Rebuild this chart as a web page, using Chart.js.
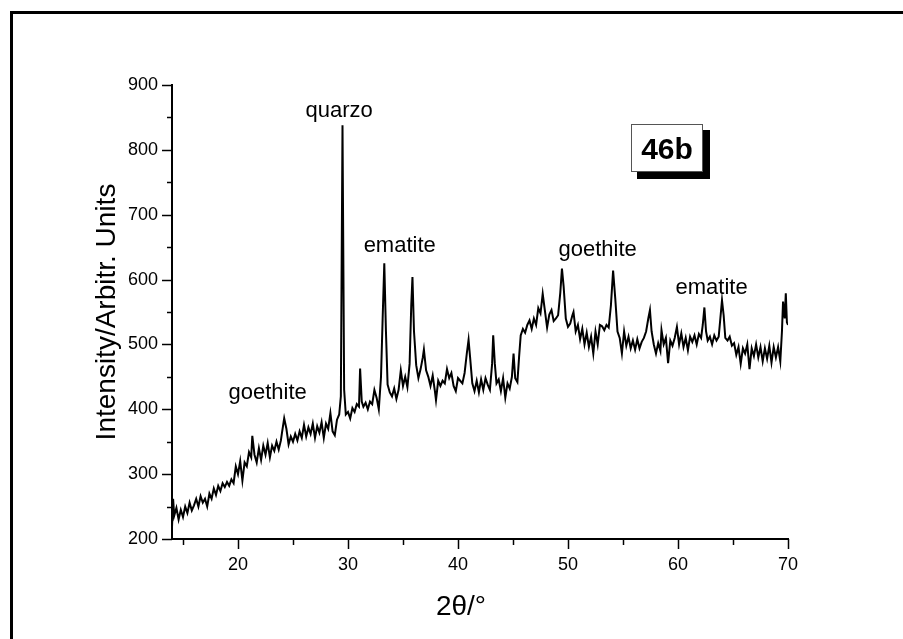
<!DOCTYPE html>
<html>
<head>
<meta charset="utf-8">
<title>46b XRD</title>
<script src="https://cdn.jsdelivr.net/npm/chart.js@4.4.1/dist/chart.umd.min.js"></script>
<style>
  html, body { margin: 0; padding: 0; background: #fff; }
  canvas { display: block; }
</style>
</head>
<body>
<canvas id="xrd" width="903" height="639"></canvas>
<script>
// ============================================================
// XRD pattern 46b
// ============================================================

const twoTheta = [
  14.0, 14.1, 14.2, 14.4, 14.6, 14.8, 15.0, 15.2, 15.4, 15.6, 15.8, 16.0, 16.2, 16.4, 16.6, 16.8,
  17.0, 17.2, 17.4, 17.6, 17.8, 18.0, 18.2, 18.4, 18.6, 18.8, 19.0, 19.2, 19.4, 19.6, 19.8, 20.0,
  20.2, 20.4, 20.6, 20.8, 21.0, 21.2, 21.3, 21.5, 21.7, 21.9, 22.1, 22.3, 22.5, 22.7, 22.9, 23.1,
  23.3, 23.5, 23.7, 23.9, 24.0, 24.2, 24.4, 24.6, 24.8, 25.0, 25.2, 25.4, 25.6, 25.8, 26.0, 26.2,
  26.4, 26.6, 26.8, 27.0, 27.2, 27.4, 27.6, 27.8, 28.0, 28.2, 28.4, 28.6, 28.8, 29.0, 29.2, 29.35,
  29.5, 29.65, 29.8, 30.0, 30.2, 30.4, 30.6, 30.8, 31.0, 31.1, 31.25, 31.4, 31.6, 31.8, 32.0, 32.2,
  32.4, 32.6, 32.8, 33.0, 33.15, 33.3, 33.45, 33.6, 33.8, 34.0, 34.2, 34.4, 34.6, 34.8, 35.0, 35.2,
  35.4, 35.6, 35.75, 35.86, 36.0, 36.2, 36.4, 36.6, 36.8, 36.9, 37.1, 37.3, 37.5, 37.7, 37.9, 38.0,
  38.2, 38.4, 38.6, 38.8, 39.0, 39.2, 39.4, 39.6, 39.8, 40.0, 40.2, 40.4, 40.6, 40.8, 40.96, 41.1,
  41.3, 41.5, 41.7, 41.9, 42.1, 42.3, 42.5, 42.7, 42.9, 43.1, 43.2, 43.35, 43.5, 43.7, 43.9, 44.1,
  44.3, 44.5, 44.7, 44.9, 45.05, 45.2, 45.4, 45.55, 45.7, 45.9, 46.1, 46.3, 46.5, 46.7, 46.9, 47.1,
  47.3, 47.5, 47.7, 47.9, 48.1, 48.3, 48.5, 48.7, 48.9, 49.1, 49.3, 49.45, 49.6, 49.8, 50.0, 50.2,
  50.4, 50.5, 50.7, 50.9, 51.1, 51.3, 51.5, 51.7, 51.9, 52.1, 52.3, 52.5, 52.7, 52.9, 53.1, 53.3,
  53.5, 53.7, 53.9, 54.1, 54.3, 54.5, 54.7, 54.9, 55.1, 55.3, 55.5, 55.7, 55.9, 56.1, 56.3, 56.5,
  56.7, 56.9, 57.1, 57.3, 57.45, 57.6, 57.8, 58.0, 58.2, 58.4, 58.5, 58.7, 58.9, 59.1, 59.3, 59.5,
  59.7, 59.9, 60.1, 60.3, 60.5, 60.7, 60.9, 61.1, 61.3, 61.5, 61.7, 61.9, 62.1, 62.25, 62.4, 62.55,
  62.7, 62.9, 63.1, 63.3, 63.5, 63.7, 63.85, 64.0, 64.15, 64.3, 64.5, 64.7, 64.9, 65.1, 65.3, 65.5,
  65.7, 65.9, 66.1, 66.3, 66.5, 66.7, 66.9, 67.1, 67.3, 67.5, 67.7, 67.9, 68.1, 68.3, 68.5, 68.7,
  68.9, 69.1, 69.3, 69.45, 69.55, 69.7, 69.8, 69.9, 70.0
];

const counts = [
  218, 262, 236, 248, 230, 245, 234, 250, 240, 256, 244, 252, 262, 250, 266, 256,
  262, 250, 270, 262, 278, 268, 282, 274, 286, 280, 288, 282, 292, 286, 312, 300,
  320, 290, 318, 312, 334, 326, 359, 330, 318, 340, 322, 344, 330, 348, 326, 344,
  336, 350, 338, 352, 364, 386, 370, 346, 358, 350, 362, 352, 366, 356, 376, 358,
  372, 362, 378, 356, 374, 364, 380, 356, 378, 370, 394, 366, 360, 384, 392, 420,
  838, 430, 392, 396, 386, 402, 396, 408, 404, 463, 412, 404, 410, 400, 412, 408,
  430, 418, 400, 450, 540, 625, 520, 438, 426, 420, 432, 416, 430, 460, 436, 450,
  434, 470, 560, 604, 520, 468, 448, 462, 480, 492, 460, 450, 436, 452, 428, 414,
  444, 436, 444, 440, 462, 448, 456, 436, 428, 448, 444, 440, 456, 486, 507, 480,
  440, 428, 444, 426, 446, 430, 448, 438, 430, 470, 514, 470, 440, 446, 428, 448,
  418, 440, 432, 450, 486, 448, 442, 480, 514, 524, 518, 530, 537, 524, 540, 530,
  556, 548, 578, 552, 526, 546, 553, 536, 540, 545, 580, 617, 590, 540, 527, 532,
  545, 550, 520, 530, 508, 524, 500, 518, 496, 512, 486, 520, 500, 530, 528, 522,
  530, 526, 560, 614, 570, 520, 510, 486, 520, 498, 512, 494, 506, 492, 508, 494,
  504, 510, 520, 540, 553, 520, 500, 486, 502, 490, 522, 500, 510, 471, 506, 498,
  510, 527, 500, 517, 496, 510, 491, 512, 504, 514, 500, 516, 510, 530, 557, 520,
  506, 512, 500, 514, 506, 512, 540, 568, 545, 510, 506, 512, 498, 502, 484, 496,
  470, 494, 486, 500, 462, 494, 482, 500, 480, 496, 474, 494, 478, 498, 472, 496,
  480, 496, 474, 520, 566, 540, 579, 534, 530
];

const xMajorTicks = [20, 30, 40, 50, 60, 70];
const xMinorTicks = [15, 25, 35, 45, 55, 65];
const yMajorTicks = [200, 300, 400, 500, 600, 700, 800, 900];
const yMinorTicks = [250, 350, 450, 550, 650, 750, 850];

// peak labels: [text, 2theta, intensity at text baseline]
const peakLabels = [
  ['quarzo', 29.2, 850],
  ['ematite', 34.7, 642],
  ['goethite', 22.7, 416],
  ['goethite', 52.7, 637],
  ['ematite', 63.05, 577]
];

const FONT = "'Liberation Sans', Arial, sans-serif";

// frame, tick marks, axis titles and annotations
const decorations = {
  id: 'decorations',
  beforeDraw(chart) {
    const c = chart.ctx;
    c.save();
    c.fillStyle = '#fff';
    c.fillRect(0, 0, chart.width, chart.height);
    c.strokeStyle = '#000';
    c.lineWidth = 3;
    c.strokeRect(11.5, 12.5, 1000, 1000);
    c.restore();
  },
  afterDraw(chart) {
    const c = chart.ctx;
    const xs = chart.scales.x;
    const ys = chart.scales.y;
    const area = chart.chartArea;
    c.save();
    c.strokeStyle = '#000';
    c.lineWidth = 1.5;

    const tick = (px, len, horiz) => {
      c.beginPath();
      if (horiz) {
        c.moveTo(area.left, px);
        c.lineTo(area.left - len, px);
      } else {
        c.moveTo(px, area.bottom);
        c.lineTo(px, area.bottom + len);
      }
      c.stroke();
    };
    xMajorTicks.forEach(v => tick(Math.round(xs.getPixelForValue(v)) + 0.5, 10, false));
    xMinorTicks.forEach(v => tick(Math.round(xs.getPixelForValue(v)) + 0.5, 6, false));
    yMajorTicks.forEach(v => tick(Math.round(ys.getPixelForValue(v)) + 0.5, 10, true));
    yMinorTicks.forEach(v => tick(Math.round(ys.getPixelForValue(v)) + 0.5, 5, true));

    c.fillStyle = '#000';
    c.textAlign = 'center';
    c.textBaseline = 'alphabetic';

    // peak annotations
    c.font = '22px ' + FONT;
    peakLabels.forEach(([t, x, y]) => {
      c.fillText(t, xs.getPixelForValue(x), ys.getPixelForValue(y));
    });

    // axis titles
    c.font = '28px ' + FONT;
    c.fillText('2\u03b8/\u00b0', 461, 615);
    c.save();
    c.translate(115, 312);
    c.rotate(-Math.PI / 2);
    c.fillText('Intensity/Arbitr. Units', 0, 0);
    c.restore();

    // sample tag with drop shadow
    c.fillStyle = '#000';
    c.fillRect(637, 130, 73, 49);
    c.fillStyle = '#fff';
    c.fillRect(631, 124, 72, 48);
    c.strokeStyle = '#555';
    c.lineWidth = 1;
    c.strokeRect(631.5, 124.5, 71, 47);
    c.fillStyle = '#000';
    c.font = 'bold 30px ' + FONT;
    c.fillText('46b', 667, 159);
    c.restore();
  }
};

new Chart(document.getElementById('xrd'), {
  type: 'line',
  data: {
    datasets: [{
      data: twoTheta.map((x, i) => ({ x, y: counts[i] })),
      borderColor: '#000',
      borderWidth: 2,
      pointRadius: 0,
      tension: 0,
      fill: false
    }]
  },
  options: {
    responsive: false,
    animation: false,
    layout: { padding: { left: 0, top: 85, right: 115, bottom: 0 } },
    plugins: { legend: { display: false }, tooltip: { enabled: false } },
    scales: {
      x: {
        type: 'linear',
        min: 14,
        max: 70,
        afterFit: s => { s.height = 100; },
        afterBuildTicks: s => { s.ticks = xMajorTicks.map(v => ({ value: v })); },
        grid: { display: false, drawTicks: true, tickLength: 10 },
        border: { display: true, color: '#000', width: 2 },
        ticks: { autoSkip: false, maxRotation: 0, padding: 5, color: '#000', font: { family: FONT, size: 18 } }
      },
      y: {
        min: 200,
        max: 900,
        afterFit: s => { s.width = 172; },
        afterBuildTicks: s => { s.ticks = yMajorTicks.map(v => ({ value: v })); },
        grid: { display: false, drawTicks: true, tickLength: 10 },
        border: { display: true, color: '#000', width: 2 },
        ticks: { autoSkip: false, padding: 4, color: '#000', font: { family: FONT, size: 18 } }
      }
    }
  },
  plugins: [decorations]
});
</script>
</body>
</html>
